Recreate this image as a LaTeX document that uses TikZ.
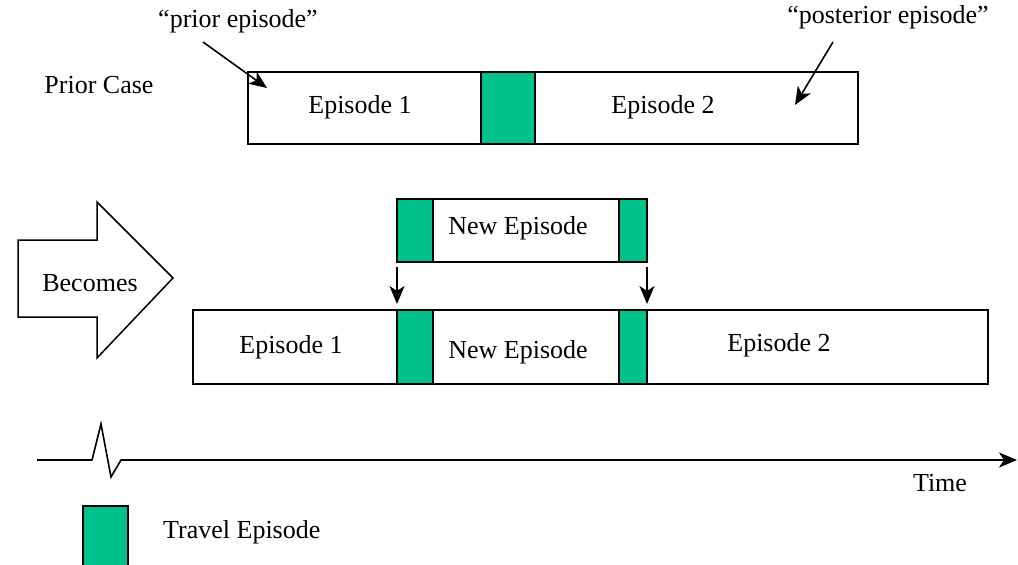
\documentclass[tikz,border=0pt]{standalone}
\usepackage{fontspec}
\setmainfont{Liberation Serif}
\usetikzlibrary{arrows.meta}
\definecolor{travel}{RGB}{0,192,140}
\tikzset{
  box/.style={draw=black, line width=1.6pt, fill=white, anchor=north west, inner sep=0pt, outer sep=0pt},
  travelbox/.style={box, fill=travel},
  lbl/.style={font=\fontsize{26}{30}\selectfont, inner sep=0pt},
  tip/.style={-{Stealth[length=18pt, width=15pt, inset=5pt]}},
  pointer/.style={line width=1.6pt, tip},
}
\begin{document}
\begin{tikzpicture}[x=1pt, y=-1pt]
\useasboundingbox (0,0) rectangle (1018,565);
\fill[white] (0,0) rectangle (1018,565);

% prior case
\node[box, minimum width=610pt, minimum height=72pt] (prior) at (248,72) {};
\node[travelbox, minimum width=54pt, minimum height=72pt] (g1) at (481,72) {};
\node[lbl] (pc) at (99,85) {Prior Case};
\node[lbl] (pe1) at (360,107) {Episode 1};
\node[lbl] (pe2) at (663,107) {Episode 2};
\node[lbl] (lprior) at (238,21) {“prior episode”};
\node[lbl] (lpost) at (888,17) {“posterior episode”};
\coordinate (sprior) at (203,42);
\coordinate (tprior) at (267,88);
\coordinate (spost) at (833,42);
\coordinate (tpost) at (795,105);
\draw[pointer] (sprior) -- (tprior);
\draw[pointer] (spost) -- (tpost);

% "Becomes" block arrow
\draw[line width=1.5pt, fill=white, line join=miter]
  (18,240) -- (97,240) -- (97,202) -- (173,278) -- (97,358) -- (97,317) -- (18,317) -- cycle;
\node[lbl] (becomes) at (90,283) {Becomes};

% new episode to insert
\node[box, minimum width=250pt, minimum height=63pt] (new) at (397,199) {};
\node[travelbox, minimum width=36pt, minimum height=63pt] (g3) at (397,199) {};
\node[travelbox, minimum width=28pt, minimum height=63pt] (g4) at (619,199) {};
\node[lbl] (ne1) at (518,228) {New Episode};

% resulting case
\node[box, minimum width=795pt, minimum height=74pt] (after) at (193,310) {};
\node[travelbox, minimum width=36pt, minimum height=74pt] (g5) at (397,310) {};
\node[travelbox, minimum width=28pt, minimum height=74pt] (g6) at (619,310) {};
\node[lbl] (ae1) at (291,347) {Episode 1};
\node[lbl] (ne2) at (518,352) {New Episode};
\node[lbl] (ae2) at (779,345) {Episode 2};

\draw[pointer] ([yshift=-5pt]g3.south west) -- ([yshift=6pt]g5.north west);
\draw[pointer] ([yshift=-5pt]g4.south east) -- ([yshift=6pt]g6.north east);

% time axis
\coordinate (t0) at (37,460);
\coordinate (t1) at (1017,460);
\draw[line width=1.6pt, line join=miter, tip]
  (t0) -- (92,460) -- (101,424) -- (111,477) -- (121,460) -- (t1);
\node[lbl] (time) at (940,483) {Time};

% legend
\node[travelbox, minimum width=45pt, minimum height=62pt] (leg) at (83,506) {};
\node[lbl, anchor=west] (legtxt) at (163,532) {Travel Episode};
\end{tikzpicture}
\end{document}
